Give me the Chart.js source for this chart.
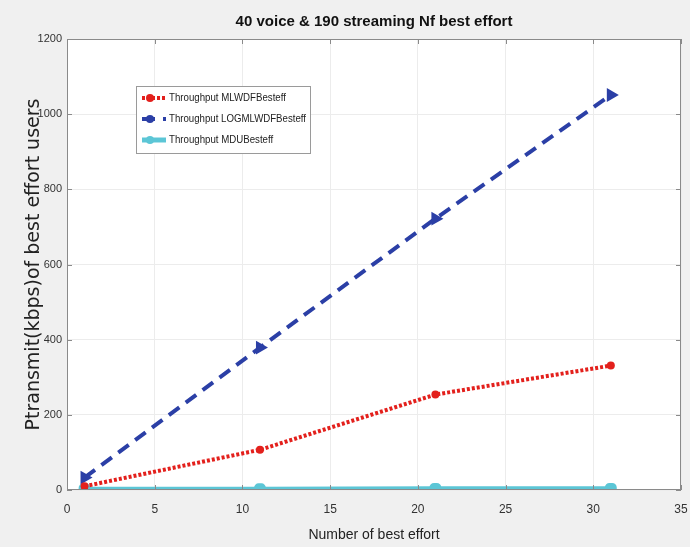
<!DOCTYPE html>
<html>
<head>
<meta charset="utf-8">
<script src="https://cdn.jsdelivr.net/npm/chart.js@4.4.0/dist/chart.umd.min.js"></script>
<style>
  html, body { margin: 0; padding: 0; background: #f0f0f0; overflow: hidden; }
  canvas { display: block; }
</style>
</head>
<body>
<canvas id="myChart" width="690" height="547"></canvas>
<script>
// number of best effort users on the x axis
const users = [1, 11, 21, 31];
const mlwdf = [10, 107, 254, 331];
const logMlwdf = [33, 379, 722, 1051];
const mdu = [2, 2, 3, 3];

const xTicks = [0, 5, 10, 15, 20, 25, 30, 35];
const yTicks = [0, 200, 400, 600, 800, 1000, 1200];

const sans = "'Liberation Sans', Arial, sans-serif";

function toPoints(ys) {
  return users.map((x, i) => ({ x: x, y: ys[i] }));
}

// white plot area with a frame and inward ticks like MATLAB axes
const axesBox = {
  id: 'axesBox',
  beforeDraw(chart) {
    const { ctx, chartArea: a } = chart;
    ctx.save();
    ctx.fillStyle = '#ffffff';
    ctx.fillRect(a.left, a.top, a.right - a.left, a.bottom - a.top);
    ctx.restore();
  },
  afterDatasetsDraw(chart) {
    const { ctx, chartArea: a, scales } = chart;
    ctx.save();
    ctx.strokeStyle = '#8a8a8a';
    ctx.lineWidth = 1;
    ctx.strokeRect(a.left + 0.5, a.top + 0.5, a.right - a.left - 1, a.bottom - a.top - 1);
    ctx.beginPath();
    yTicks.forEach(v => {
      const y = Math.round(scales.y.getPixelForValue(v)) + 0.5;
      ctx.moveTo(a.left, y); ctx.lineTo(a.left + 5, y);
      ctx.moveTo(a.right, y); ctx.lineTo(a.right - 5, y);
    });
    xTicks.forEach(v => {
      const x = Math.round(scales.x.getPixelForValue(v)) + 0.5;
      ctx.moveTo(x, a.bottom); ctx.lineTo(x, a.bottom - 5);
      ctx.moveTo(x, a.top); ctx.lineTo(x, a.top + 5);
    });
    ctx.stroke();
    ctx.restore();
  }
};

// legend box drawn inside the axes, upper left
const innerLegend = {
  id: 'innerLegend',
  afterDraw(chart) {
    const { ctx } = chart;
    const left = 136, top = 86, w = 174, rowH = 21;
    ctx.save();
    ctx.fillStyle = '#ffffff';
    ctx.fillRect(left, top, w, rowH * 3 + 4);
    ctx.strokeStyle = '#9a9a9a';
    ctx.lineWidth = 1;
    ctx.strokeRect(left + 0.5, top + 0.5, w, rowH * 3 + 4);
    chart.data.datasets.forEach((ds, i) => {
      const y = top + 12 + i * rowH;
      ctx.strokeStyle = ds.borderColor;
      ctx.lineWidth = ds.borderWidth;
      ctx.setLineDash(ds.borderDash || []);
      ctx.beginPath();
      ctx.moveTo(left + 6, y);
      ctx.lineTo(left + 30, y);
      ctx.stroke();
      ctx.setLineDash([]);
      ctx.fillStyle = ds.pointBackgroundColor;
      ctx.beginPath();
      ctx.arc(left + 14, y, 4, 0, Math.PI * 2);
      ctx.fill();
      ctx.fillStyle = '#222222';
      ctx.font = "11px " + sans;
      ctx.textBaseline = 'middle';
      const tw = Math.min(ctx.measureText(ds.label).width * 0.88, w - 37);
      ctx.fillText(ds.label, left + 33, y, tw);
    });
    ctx.restore();
  }
};

// let the last x label hang past the plot edge instead of shrinking the plot
function noRightPadding(scale) {
  scale.height = 57;
  scale.paddingRight = 0;
  const base = scale.getPadding.bind(scale);
  scale.getPadding = () => Object.assign({}, base(), { right: 0 });
}

const ctx = document.getElementById('myChart').getContext('2d');
new Chart(ctx, {
  type: 'line',
  data: {
    datasets: [
      {
        label: 'Throughput MLWDFBesteff',
        data: toPoints(mlwdf),
        borderColor: '#e3201c',
        backgroundColor: '#e3201c',
        pointBackgroundColor: '#e3201c',
        pointBorderColor: '#e3201c',
        borderWidth: 4,
        borderDash: [3, 2],
        pointRadius: 4,
        pointBorderWidth: 0,
        pointStyle: 'circle',
        tension: 0
      },
      {
        label: 'Throughput LOGMLWDFBesteff',
        data: toPoints(logMlwdf),
        borderColor: '#2b3fa6',
        backgroundColor: '#2b3fa6',
        pointBackgroundColor: '#2b3fa6',
        pointBorderColor: '#2b3fa6',
        borderWidth: 4,
        borderDash: [13, 8],
        pointRadius: 4,
        pointStyle: 'triangle',
        pointRotation: 90,
        tension: 0
      },
      {
        label: 'Throughput MDUBesteff',
        data: toPoints(mdu),
        borderColor: '#5cc6d6',
        backgroundColor: '#5cc6d6',
        pointBackgroundColor: '#5cc6d6',
        pointBorderColor: '#5cc6d6',
        borderWidth: 5,
        pointRadius: 4,
        pointStyle: 'rectRounded',
        tension: 0
      }
    ]
  },
  options: {
    responsive: false,
    animation: false,
    layout: { padding: 0 },
    plugins: {
      legend: { display: false },
      tooltip: { enabled: false },
      title: {
        display: true,
        fullSize: false,
        text: '40 voice & 190 streaming Nf best effort',
        color: '#111111',
        font: { family: sans, size: 15, weight: 'bold' },
        padding: { top: 13, bottom: 8 }
      }
    },
    scales: {
      x: {
        type: 'linear',
        min: 0,
        max: 35,
        afterBuildTicks: axis => { axis.ticks = xTicks.map(v => ({ value: v })); },
        afterFit: noRightPadding,
        grid: { color: '#ececec', drawTicks: false },
        border: { display: false },
        ticks: { color: '#333333', font: { family: sans, size: 12 }, padding: 12, callback: v => String(v) },
        title: {
          display: true,
          text: 'Number of best effort',
          color: '#222222',
          font: { family: sans, size: 14 },
          padding: { top: 2, bottom: 3 }
        }
      },
      y: {
        min: 0,
        max: 1200,
        afterBuildTicks: axis => { axis.ticks = yTicks.map(v => ({ value: v })); },
        afterFit: scale => { scale.width = 67; },
        grid: { color: '#ececec', drawTicks: false },
        border: { display: false },
        ticks: { color: '#333333', font: { family: sans, size: 11 }, padding: 5, callback: v => String(v) },
        title: {
          display: true,
          text: 'Ptransmit(kbps)of best effort users',
          color: '#222222',
          font: { family: "'DejaVu Sans', sans-serif", size: 19 },
          padding: { top: 23, bottom: 0 }
        }
      }
    }
  },
  plugins: [axesBox, innerLegend]
});
</script>
</body>
</html>
